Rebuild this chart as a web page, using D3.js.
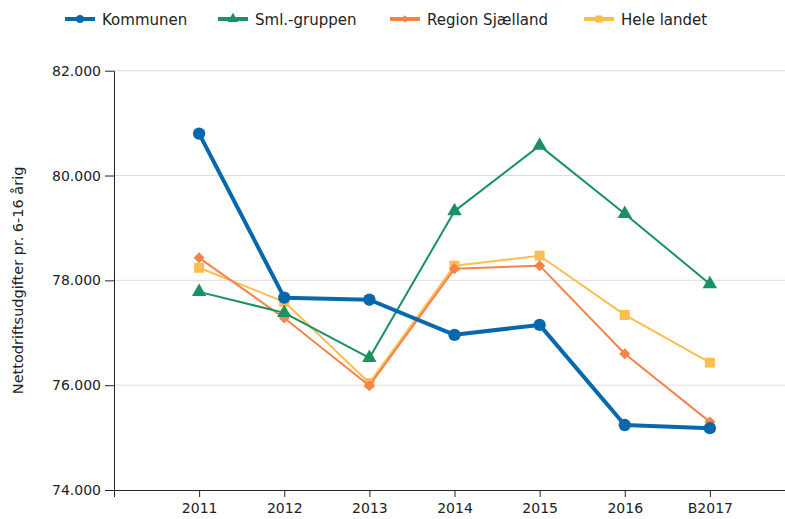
<!DOCTYPE html>
<html>
<head>
<meta charset="utf-8">
<script src="https://cdn.jsdelivr.net/npm/d3@7"></script>
<style>
  body { margin: 0; background: #fff; }
  text { font-family: "DejaVu Sans", Verdana, sans-serif; fill: #222; }
  .grid line { stroke: #dcdcdc; }
  .axis path, .axis line { stroke: #222; }
</style>
</head>
<body>
<svg id="chart" width="785" height="519"></svg>
<script>
  // Data
  var years = ['2011', '2012', '2013', '2014', '2015', '2016', 'B2017'];
  var kommunen = [80800, 77670, 77630, 76960, 77150, 75240, 75180];
  var smlGruppen = [77780, 77380, 76520, 79320, 80570, 79270, 77930];
  var regionSjaelland = [78430, 77280, 75990, 78220, 78280, 76600, 75300];
  var heleLandet = [78240, 77590, 76040, 78280, 78470, 77340, 76430];
  var yTicks = [74000, 76000, 78000, 80000, 82000];

  // rot = rotate the symbol (square -> diamond)
  var series = [
    { name: 'Kommunen', values: kommunen, color: '#0868ac', width: 4, symbol: d3.symbolCircle, size: 120, rot: 0 },
    { name: 'Sml.-gruppen', values: smlGruppen, color: '#1b9063', width: 2, symbol: d3.symbolTriangle, size: 90, rot: 0 },
    { name: 'Region Sjælland', values: regionSjaelland, color: '#f4834a', width: 2, symbol: d3.symbolSquare, size: 60, rot: 45 },
    { name: 'Hele landet', values: heleLandet, color: '#fdbd4f', width: 2, symbol: d3.symbolSquare, size: 100, rot: 0 }
  ];

  var svg = d3.select('#chart');
  var plotLeft = 114, plotRight = 795, plotTop = 70.7, plotBottom = 490;

  var x = d3.scalePoint().domain(years).range([plotLeft, plotRight]).padding(1);
  var y = d3.scaleLinear().domain([74000, 82000]).range([plotBottom, plotTop]);
  var fmt = function(d) { return d3.format(',')(d).replace(/,/g, '.'); };

  // gridlines
  svg.append('g').attr('class', 'grid')
    .selectAll('line').data(yTicks.slice(1)).enter().append('line')
    .attr('x1', plotLeft).attr('x2', 785)
    .attr('y1', function(d) { return y(d); }).attr('y2', function(d) { return y(d); });

  // axes
  svg.append('g').attr('class', 'axis')
    .attr('transform', 'translate(' + plotLeft + ',0)')
    .call(d3.axisLeft(y).tickValues(yTicks).tickFormat(fmt).tickSize(9).tickSizeOuter(0).tickPadding(4))
    .selectAll('text').style('font-size', '14px');

  svg.append('g').attr('class', 'axis')
    .attr('transform', 'translate(0,' + plotBottom + ')')
    .call(d3.axisBottom(x).tickSize(7).tickSizeOuter(7).tickPadding(6))
    .selectAll('text').style('font-size', '14px');

  // y title
  svg.append('text')
    .attr('transform', 'translate(23,' + ((plotTop + plotBottom) / 2) + ') rotate(-90)')
    .attr('text-anchor', 'middle')
    .style('font-size', '14.5px')
    .text('Nettodriftsudgifter pr. 6-16 årig');

  var line = d3.line()
    .x(function(d, i) { return x(years[i]); })
    .y(function(d) { return y(d); });

  // draw last series first so Kommunen ends on top
  series.slice().reverse().forEach(function(s) {
    var g = svg.append('g');
    g.append('path')
      .datum(s.values)
      .attr('fill', 'none')
      .attr('stroke', s.color)
      .attr('stroke-width', s.width)
      .attr('stroke-linejoin', 'round')
      .attr('d', line);
    g.selectAll('path.pt').data(s.values).enter().append('path')
      .attr('class', 'pt')
      .attr('fill', s.color)
      .attr('transform', function(d, i) {
        return 'translate(' + x(years[i]) + ',' + y(d) + ') rotate(' + s.rot + ')';
      })
      .attr('d', d3.symbol().type(s.symbol).size(s.size));
  });

  // legend
  var legendX = [65, 218, 390, 584];
  var legend = svg.append('g');
  series.forEach(function(s, i) {
    var lg = legend.append('g').attr('transform', 'translate(' + legendX[i] + ',19)');
    lg.append('line').attr('x1', 0).attr('x2', 30).attr('y1', 0).attr('y2', 0)
      .attr('stroke', s.color).attr('stroke-width', 4);
    lg.append('path').attr('transform', 'translate(15,0) rotate(' + s.rot + ')').attr('fill', s.color)
      .attr('d', d3.symbol().type(s.symbol).size(s.rot ? 30 : 50));
    lg.append('text').attr('x', 37).attr('y', 5.5).style('font-size', '15px').text(s.name);
  });
</script>
</body>
</html>
